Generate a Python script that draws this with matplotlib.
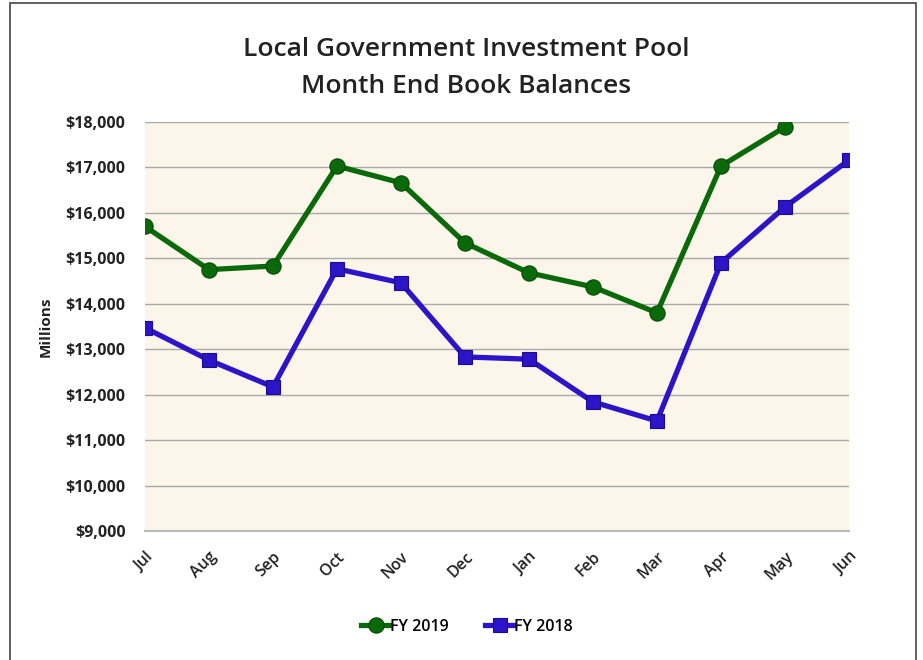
import matplotlib.pyplot as plt
from matplotlib.patches import Rectangle
from matplotlib.ticker import FuncFormatter

plt.rcParams['font.family'] = ['Open Sans', 'DejaVu Sans']

months = ["Jul", "Aug", "Sep", "Oct", "Nov", "Dec", "Jan", "Feb", "Mar", "Apr", "May", "Jun"]
fy2019 = [15700, 14750, 14830, 17030, 16660, 15340, 14680, 14370, 13800, 17030, 17890]
fy2018 = [13470, 12760, 12170, 14770, 14460, 12830, 12780, 11840, 11420, 14900, 16130, 17160]

green = "#0a6a0a"
blue = "#2c14c8"

fig = plt.figure(figsize=(9.23, 6.6), dpi=100)
ax = fig.add_axes([0.1571, 0.1955, 0.7627, 0.6197])
ax.set_facecolor("#fbf5ea")

x19 = list(range(len(fy2019)))
x18 = list(range(len(fy2018)))
ax.plot(x19, fy2019, color=green, lw=3.8, marker="o", ms=11,
        markerfacecolor=green, markeredgecolor="#064a06", markeredgewidth=0.8,
        label="FY 2019", zorder=3)
ax.plot(x18, fy2018, color=blue, lw=3.8, marker="s", ms=10.5,
        markerfacecolor=blue, markeredgecolor="#1c0c90", markeredgewidth=0.8,
        label="FY 2018", zorder=3)

ax.set_xlim(0, 11)
ax.set_ylim(9000, 18000)
ax.set_yticks(range(9000, 18001, 1000))
ax.yaxis.set_major_formatter(FuncFormatter(lambda v, p: "${:,.0f}".format(v)))
ax.grid(axis="y", color="#aaaaaa", lw=1)
ax.set_axisbelow(True)
for s in ["top", "right", "left"]:
    ax.spines[s].set_visible(False)
ax.spines["bottom"].set_color("#bbbbbb")
ax.spines["bottom"].set_linewidth(1.5)
ax.tick_params(axis="both", length=0, labelsize=11.5, colors="#222222")
ax.tick_params(axis="y", pad=14)
ax.set_xticks(x18)
ax.set_xticklabels(months, rotation=45, ha="right", va="top", rotation_mode="anchor")
for lbl in ax.get_xticklabels():
    lbl.set_fontweight("semibold")
for lbl in ax.get_yticklabels():
    lbl.set_fontweight("bold")
ax.tick_params(axis="x", pad=13)
ax.set_ylabel("Millions", fontsize=11, fontweight="bold", color="#222222", labelpad=9)

fig.text(0.505, 0.925, "Local Government Investment Pool", ha="center", va="center",
         fontsize=19, fontweight="semibold", color="#222222")
fig.text(0.505, 0.869, "Month End Book Balances", ha="center", va="center",
         fontsize=19, fontweight="semibold", color="#222222")

leg = fig.legend(loc="center", bbox_to_anchor=(0.506, 0.05), ncol=2, frameon=False,
                 handlelength=1.8, handletextpad=0.0, columnspacing=2.3,
                 prop={"size": 11.5, "weight": "semibold"})

fig.patches.append(Rectangle((10 / 923, -0.05), 906 / 923, 1.05 - 3 / 660,
                             transform=fig.transFigure, fill=False,
                             edgecolor="#444444", lw=1.2))

fig.savefig("out.png", dpi=100)
